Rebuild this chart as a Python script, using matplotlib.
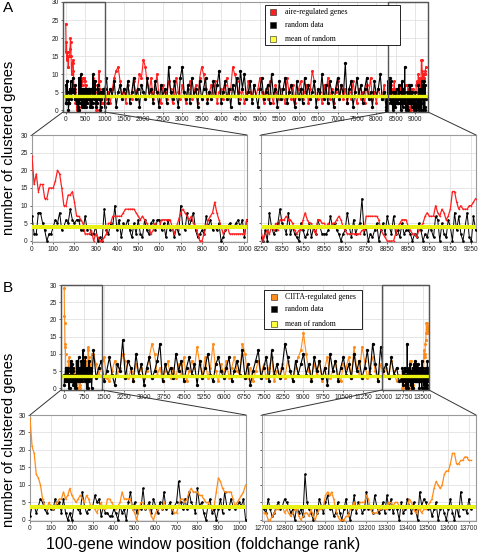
import matplotlib
matplotlib.use('Agg')
import matplotlib.pyplot as plt
from matplotlib.patches import Rectangle, ConnectionPatch
import numpy as np

plt.rcParams['font.family'] = ['Liberation Sans', 'DejaVu Sans']

# ---- panel A : aire-regulated genes (windows of 100 genes) ----
# zoom 0..1010, step 10
aire_left = [24, 16, 19, 14, 16, 16, 12, 12, 15, 15,
             15, 17, 20, 19, 15, 10, 10, 13, 13, 14,
             11, 7, 7, 6, 5, 2, 2, 2, 3, 0,
             2, 1, 0, 0, 1, 2, 5, 5, 7, 7,
             7, 7, 7, 8, 9, 9, 9, 9, 9, 8,
             7, 6, 7, 6, 5, 4, 2, 3, 5, 4,
             4, 6, 6, 6, 6, 6, 4, 2, 4, 6,
             8, 9, 8, 7, 6, 7, 5, 4, 2, 0,
             0, 2, 4, 6, 7, 8, 11, 8, 6, 4,
             2, 3, 4, 2, 2, 2, 2, 2, 2, 2,
             2, 6]
randA_left = [7, 2, 2, 8, 8, 5, 3, 0, 2, 2,
              4, 6, 5, 8, 3, 4, 6, 5, 9, 6,
              5, 6, 6, 3, 3, 7, 3, 4, 2, 2,
              4, 0, 1, 0, 9, 3, 2, 5, 4, 10,
              3, 6, 1, 5, 4, 6, 3, 1, 5, 2,
              6, 2, 1, 6, 3, 2, 5, 6, 3, 6,
              6, 3, 5, 1, 6, 3, 4, 1, 4, 2,
              10, 4, 3, 8, 4, 6, 8, 3, 1, 2,
              3, 2, 7, 4, 6, 3, 4, 3, 5, 0,
              1, 3, 4, 5, 4, 4, 5, 6, 4, 6,
              1, 6]
# overview only, 1050..8200, step 50
aire_mid = [3, 5, 2, 6, 9, 11, 12, 8, 4, 6,
            2, 7, 4, 3, 8, 5, 6, 10, 9, 14,
            12, 7, 5, 9, 3, 6, 10, 4, 2, 7,
            5, 3, 8, 6, 2, 4, 9, 5, 3, 7,
            4, 2, 6, 8, 3, 5, 7, 2, 9, 12,
            10, 6, 3, 5, 7, 4, 8, 2, 5, 6,
            3, 7, 9, 4, 6, 12, 10, 8, 5, 3,
            6, 2, 4, 8, 5, 3, 7, 4, 6, 9,
            5, 2, 6, 3, 8, 4, 2, 7, 5, 3,
            6, 4, 2, 9, 5, 3, 7, 2, 4, 6,
            8, 3, 5, 7, 2, 6, 11, 8, 4, 3,
            5, 2, 7, 4, 9, 3, 6, 2, 5, 8,
            4, 7, 3, 6, 2, 5, 3, 8, 4, 2,
            6, 3, 5, 2, 7, 4, 9, 3, 5, 2,
            6, 4, 3, 7]
randA_mid = [9, 2, 6, 4, 8, 1, 5, 7, 3, 6,
             4, 8, 2, 5, 9, 3, 6, 1, 7, 5,
             3, 9, 4, 6, 2, 8, 5, 1, 7, 4,
             6, 2, 12, 5, 3, 8, 4, 1, 9, 12,
             5, 3, 7, 2, 9, 4, 6, 1, 8, 3,
             6, 9, 2, 5, 3, 8, 4, 7, 11, 2,
             5, 8, 3, 6, 1, 7, 4, 9, 2, 11,
             6, 10, 3, 5, 8, 2, 7, 4, 1, 6,
             9, 3, 5, 7, 2, 10, 4, 6, 1, 8,
             3, 6, 9, 2, 5, 7, 4, 1, 8, 3,
             6, 2, 9, 4, 7, 3, 5, 8, 1, 6,
             4, 10, 3, 7, 2, 8, 5, 1, 6, 9,
             3, 7, 4, 13, 2, 6, 8, 1, 5, 9,
             4, 7, 2, 6, 9, 3, 5, 1, 8, 4,
             6, 10, 3, 5]
# zoom 8250..9270, step 10
aire_right = [3, 0, 2, 3, 2, 4, 3, 5, 3, 6,
              6, 6, 7, 6, 6, 5, 3, 2, 3, 3,
              6, 8, 6, 5, 5, 3, 2, 6, 6, 5,
              5, 4, 5, 4, 5, 5, 6, 7, 6, 4,
              3, 2, 2, 2, 2, 2, 2, 2, 3, 3,
              7, 7, 7, 7, 7, 7, 6, 3, 2, 1,
              0, 0, 0, 0, 2, 4, 5, 6, 6, 6,
              4, 3, 2, 2, 1, 3, 4, 5, 7, 8,
              7, 7, 7, 10, 8, 7, 9, 8, 6, 7,
              9, 14, 14, 11, 9, 10, 9, 9, 9, 10,
              10, 11, 12]
randA_right = [1, 0, 3, 0, 8, 4, 2, 3, 5, 9,
               5, 4, 2, 8, 2, 4, 2, 1, 0, 5,
               3, 1, 2, 5, 1, 4, 2, 6, 4, 2,
               2, 2, 3, 7, 4, 5, 3, 2, 0, 2,
               3, 8, 4, 1, 6, 2, 4, 5, 12, 2,
               4, 0, 2, 1, 3, 5, 0, 3, 5, 2,
               7, 4, 2, 7, 2, 3, 1, 5, 2, 3,
               3, 2, 0, 2, 1, 5, 3, 0, 2, 1,
               4, 3, 1, 7, 6, 0, 5, 2, 1, 6,
               4, 0, 8, 3, 7, 2, 0, 4, 8, 1,
               0, 7, 3]
meanA = 4.0

# ---- panel B : CIITA-regulated genes ----
# zoom 0..1030, step 10
ciita_left = [29, 21, 19, 13, 12, 10, 6, 4, 3, 5,
              4, 3, 4, 5, 6, 6, 8, 6, 7, 9,
              7, 6, 5, 6, 7, 6, 5, 7, 6, 4,
              4, 3, 2, 4, 5, 3, 3, 6, 6, 5,
              4, 3, 4, 5, 8, 6, 6, 6, 6, 3,
              2, 0, 3, 5, 5, 3, 4, 3, 1, 0,
              2, 3, 4, 3, 5, 4, 4, 4, 3, 2,
              2, 4, 6, 6, 5, 6, 8, 9, 8, 8,
              8, 7, 7, 6, 5, 5, 4, 3, 4, 8,
              12, 11, 9, 8, 8, 8, 8, 6, 4, 5,
              6, 7, 8, 10]
randB_left = [1, 4, 4, 2, 4, 6, 5, 3, 2, 4,
              3, 3, 6, 4, 5, 2, 6, 2, 0, 2,
              0, 4, 4, 3, 2, 8, 4, 2, 3, 4,
              4, 7, 5, 6, 1, 4, 2, 2, 1, 1,
              3, 2, 0, 4, 2, 3, 0, 5, 8, 3,
              5, 2, 4, 3, 9, 3, 4, 5, 2, 6,
              4, 2, 5, 3, 8, 3, 4, 5, 2, 4,
              5, 11, 5, 3, 6, 3, 8, 5, 4, 2,
              9, 4, 5, 2, 0, 4, 6, 2, 3, 0,
              3, 6, 2, 8, 4, 3, 6, 4, 3, 4,
              5, 4, 6, 0]
# overview only, 1100..12600, step 100
ciita_mid = [10, 7, 4, 6, 9, 3, 2, 5, 8, 4,
             6, 10, 8, 3, 5, 2, 7, 4, 6, 3,
             5, 9, 13, 10, 4, 6, 2, 5, 8, 3,
             6, 3, 7, 4, 9, 2, 5, 8, 6, 12,
             7, 4, 9, 3, 6, 13, 5, 2, 7, 4,
             8, 3, 6, 9, 5, 4, 13, 10, 3, 6,
             2, 5, 8, 4, 7, 3, 6, 9, 2, 5,
             4, 7, 3, 8, 5, 2, 6, 9, 11, 16,
             10, 5, 3, 7, 4, 8, 2, 6, 9, 3,
             5, 8, 4, 2, 7, 6, 9, 3, 12, 6,
             4, 12, 8, 3, 6, 9, 5, 2, 7, 4,
             6, 3, 8, 5, 2, 4]
randB_mid = [11, 3, 6, 8, 2, 5, 9, 4, 1, 7,
             5, 14, 3, 8, 6, 2, 10, 4, 7, 1,
             6, 9, 3, 5, 8, 13, 2, 7, 4, 6,
             3, 10, 5, 8, 2, 6, 9, 4, 7, 1,
             8, 3, 6, 10, 4, 2, 7, 9, 5, 3,
             6, 9, 2, 5, 8, 4, 11, 3, 7, 1,
             5, 8, 11, 3, 6, 9, 2, 11, 4, 7,
             3, 6, 13, 9, 5, 2, 8, 4, 7, 10,
             4, 7, 2, 9, 5, 8, 3, 6, 1, 10,
             5, 8, 2, 6, 9, 4, 7, 3, 10, 5,
             8, 3, 6, 11, 4, 13, 7, 2, 12, 5,
             7, 3, 9, 4, 6, 2]
# zoom 12700..13710, step 10
ciita_right = [2, 2, 0, 0, 1, 2, 3, 3, 4, 4,
               2, 3, 2, 1, 2, 3, 3, 1, 0, 1,
               2, 2, 1, 3, 1, 0, 2, 3, 3, 4,
               7, 8, 7, 8, 6, 3, 1, 0, 0, 0,
               1, 1, 3, 4, 5, 3, 4, 5, 5, 5,
               7, 6, 3, 2, 2, 2, 3, 3, 4, 3,
               3, 5, 5, 4, 5, 5, 4, 4, 3, 4,
               4, 6, 5, 3, 2, 3, 3, 2, 3, 3,
               4, 5, 6, 9, 11, 10, 9, 10, 13, 14,
               14, 16, 19, 19, 16, 16, 17, 17, 18, 18,
               17, 17]
randB_right = [3, 2, 6, 3, 1, 2, 4, 5, 3, 4,
               6, 5, 4, 2, 3, 0, 4, 2, 3, 1,
               13, 5, 3, 2, 0, 4, 2, 6, 4, 2,
               5, 7, 3, 4, 1, 2, 5, 2, 0, 3,
               6, 2, 0, 3, 7, 2, 5, 4, 2, 3,
               8, 3, 4, 2, 7, 4, 2, 3, 5, 2,
               7, 3, 6, 2, 4, 3, 0, 5, 2, 3,
               6, 4, 2, 5, 3, 0, 8, 4, 6, 5,
               3, 4, 1, 3, 5, 0, 3, 4, 2, 0,
               3, 6, 2, 0, 4, 1, 8, 3, 4, 2,
               6, 3]
meanB = 3.6

RED = '#ff1f1f'
ORANGE = '#ff8c1a'
YELLOW = '#e9f213'
GRID = '#dcdcdc'


def px_axes(fig, l, t, r, b):
    return fig.add_axes([l / 480, 1 - b / 554, (r - l) / 480, (b - t) / 554])


def style(ax, xticks, ylabels=True):
    ax.set_xticks(xticks)
    ax.set_yticks(np.arange(0, 31, 5))
    ax.tick_params(labelsize=4.8, length=1.5, width=0.5, pad=1.5, colors='#222222')
    if not ylabels:
        ax.set_yticklabels([])
    ax.grid(color=GRID, lw=0.5)
    ax.set_axisbelow(True)
    for s in ax.spines.values():
        s.set_color('#9a9a9a')
        s.set_linewidth(0.8)


def legend_box(ax, labels, colors, box, rows, mx, tx):
    x0, y0, x1, y1 = box
    ax.add_patch(Rectangle((x0, y0), x1 - x0, y1 - y0, transform=ax.transAxes,
                           facecolor='white', edgecolor='black', lw=0.6, zorder=10))
    for lab, c, y in zip(labels, colors, rows):
        ax.plot([mx], [y], 's', ms=4.5, mfc=c, mec='#222222', mew=0.4,
                transform=ax.transAxes, zorder=11, clip_on=False)
        ax.text(tx, y, lab, transform=ax.transAxes, va='center', ha='left',
                fontsize=5.6, family='Liberation Serif', zorder=11)


def panel(fig, rects, reg_l, reg_m, reg_r, rnd_l, rnd_m, rnd_r, x0_l, x0_m, step_m, x0_r,
          mean, color, label, main_xlim, main_ticks, boxes, sub_ticks_l, sub_ticks_r,
          sub_xlim_l, sub_xlim_r, leg):
    xl = x0_l + 10 * np.arange(len(reg_l))
    xm = x0_m + step_m * np.arange(len(reg_m))
    xr = x0_r + 10 * np.arange(len(reg_r))
    x_all = np.concatenate([xl, xm, xr])
    reg_all = np.concatenate([reg_l, reg_m, reg_r])
    rnd_all = np.concatenate([rnd_l, rnd_m, rnd_r])

    main = px_axes(fig, *rects[0])
    main.plot(x_all, reg_all, '-o', color=color, lw=0.8, ms=2.2, mew=0, zorder=3)
    main.plot(x_all, rnd_all, '-o', color='black', lw=0.8, ms=2.4, mew=0, zorder=4)
    main.axhline(mean, color=YELLOW, lw=2.4, zorder=5)
    main.set_xlim(*main_xlim)
    main.set_ylim(-0.5, 30)
    style(main, main_ticks)
    for bx0, bx1 in boxes:
        main.add_patch(Rectangle((bx0, -0.5), bx1 - bx0, 30.5, fill=False,
                                 edgecolor='#555555', lw=1.0, zorder=6, clip_on=False))
    legend_box(main, [label, 'random data', 'mean of random'],
               [color, 'black', '#ffff3c'], *leg)

    subs = []
    for rect, xs, reg, rnd, ticks, xlim, show_y in [
            (rects[1], xl, reg_l, rnd_l, sub_ticks_l, sub_xlim_l, True),
            (rects[2], xr, reg_r, rnd_r, sub_ticks_r, sub_xlim_r, False)]:
        ax = px_axes(fig, *rect)
        ax.plot(xs, rnd, '-o', color='black', lw=0.7, ms=1.9, mew=0, zorder=3)
        ax.plot(xs, reg, '-o', color=color, lw=0.9, ms=1.2, mew=0, zorder=4)
        ax.axhline(mean, color=YELLOW, lw=2.9, zorder=5)
        ax.set_xlim(*xlim)
        ax.set_ylim(-0.3, 30)
        style(ax, ticks, show_y)
        subs.append(ax)

    # lines joining the boxes to the enlarged views
    pairs = [((boxes[0][0], -0.5), subs[0], (sub_xlim_l[0], 30)),
             ((boxes[0][1], -0.5), subs[0], (sub_xlim_l[1], 30)),
             ((boxes[1][0], -0.5), subs[1], (sub_xlim_r[0], 30)),
             ((boxes[1][1], -0.5), subs[1], (sub_xlim_r[1], 30))]
    for xyA, ax, xyB in pairs:
        con = ConnectionPatch(xyA=xyA, coordsA=main.transData, xyB=xyB,
                              coordsB=ax.transData, color='#333333', lw=0.7)
        fig.add_artist(con)


fig = plt.figure(figsize=(4.8, 5.54), dpi=100)

panel(fig, [(63, 2, 428, 112), (32, 135, 247, 242), (261, 135, 476, 242)],
      aire_left, aire_mid, aire_right, randA_left, randA_mid, randA_right,
      0, 1050, 50, 8250, meanA, RED, 'aire-regulated genes',
      (-70, 9330), np.arange(0, 9001, 500), [(-70, 1000), (8300, 9330)],
      np.arange(0, 1001, 100), np.arange(8250, 9251, 100), (0, 1012), (8250, 9272),
      ((0.553, 0.609, 0.923, 0.973), (0.909, 0.791, 0.664), 0.575, 0.608))

panel(fig, [(61, 285, 429, 390), (30, 415, 246, 521), (262, 415, 476, 521)],
      ciita_left, ciita_mid, ciita_right, randB_left, randB_mid, randB_right,
      0, 1100, 100, 12700, meanB, ORANGE, 'CIITA-regulated genes',
      (-120, 13720), np.arange(0, 13501, 750), [(-120, 1420), (11950, 13720)],
      np.arange(0, 1001, 100), np.arange(12700, 13701, 100), (0, 1032), (12690, 13735),
      ((0.552, 0.583, 0.818, 0.954), (0.889, 0.769, 0.630), 0.579, 0.609))

fig.text(8 / 480, 1 - 8 / 554, 'A', fontsize=11, ha='center', va='center')
fig.text(8 / 480, 1 - 288 / 554, 'B', fontsize=11, ha='center', va='center')
fig.text(9 / 480, 1 - 148 / 554, 'number of clustered genes', rotation=90,
         fontsize=10.5, ha='center', va='center')
fig.text(9 / 480, 1 - 440 / 554, 'number of clustered genes', rotation=90,
         fontsize=10.5, ha='center', va='center')
fig.text(203 / 480, 1 - 544 / 554, '100-gene window position (foldchange rank)',
         fontsize=11.5, ha='center', va='center')

fig.savefig('out.png', dpi=100)
